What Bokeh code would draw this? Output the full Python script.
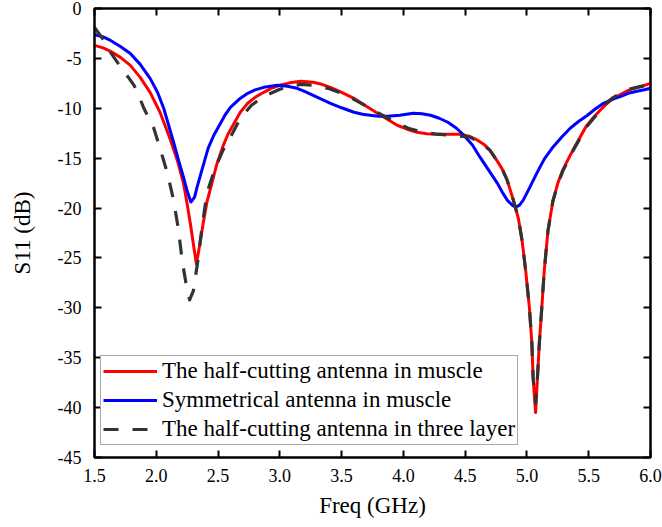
from bokeh.plotting import figure
from bokeh.models import Range1d, FixedTicker, LinearAxis, Legend, LegendItem
from bokeh.embed import file_html
from bokeh.resources import INLINE

# --- data ---
f_red = [1.50, 1.57, 1.63, 1.71, 1.79, 1.87, 1.95, 2.03, 2.11, 2.17, 2.22, 2.25, 2.28, 2.305,
         2.325, 2.35, 2.38, 2.41, 2.45, 2.49, 2.54, 2.58, 2.63, 2.68, 2.74, 2.80, 2.87, 2.93,
         3.00, 3.08, 3.17, 3.27, 3.34, 3.41, 3.50, 3.60, 3.70, 3.79, 3.87, 3.95, 4.03, 4.11,
         4.19, 4.27, 4.36, 4.46, 4.53, 4.60, 4.65, 4.70, 4.76, 4.80, 4.84, 4.89, 4.93, 4.96,
         4.99, 5.02, 5.04, 5.05, 5.07, 5.085, 5.10, 5.12, 5.14, 5.17, 5.21, 5.25, 5.29, 5.33,
         5.38, 5.43, 5.48, 5.54, 5.60, 5.65, 5.70, 5.76, 5.82, 5.89, 5.95, 6.00]
s_red = [-3.7, -3.95, -4.3, -4.9, -5.7, -6.9, -8.4, -10.4, -13.0, -15.2, -17.5, -19.6, -21.9, -24.0,
         -25.6, -23.8, -21.5, -19.4, -17.5, -15.6, -13.8, -12.6, -11.5, -10.4, -9.5, -8.9, -8.4, -8.0,
         -7.7, -7.45, -7.3, -7.4, -7.6, -7.9, -8.4, -9.0, -9.8, -10.5, -11.1, -11.7, -12.1, -12.4,
         -12.55, -12.6, -12.6, -12.6, -12.8, -13.2, -13.6, -14.2, -15.3, -16.1, -17.2, -19.2, -21.0, -23.2,
         -26.3, -30.0, -33.6, -37.0, -40.5, -37.0, -33.6, -30.0, -26.3, -22.3, -19.3, -17.5, -16.2, -15.2,
         -14.0, -12.9, -11.8, -10.9, -10.1, -9.5, -9.0, -8.6, -8.2, -7.9, -7.7, -7.5]

f_blue = [1.50, 1.57, 1.63, 1.71, 1.79, 1.87, 1.95, 2.01, 2.06, 2.10, 2.14, 2.18, 2.22, 2.25,
          2.28, 2.31, 2.33, 2.36, 2.39, 2.42, 2.47, 2.52, 2.56, 2.60, 2.67, 2.74, 2.80, 2.87,
          2.98, 3.06, 3.14, 3.20, 3.27, 3.34, 3.41, 3.50, 3.60, 3.67, 3.73, 3.80, 3.87, 3.97,
          4.08, 4.15, 4.22, 4.29, 4.36, 4.43, 4.49, 4.56, 4.62, 4.69, 4.76, 4.80, 4.84, 4.88,
          4.91, 4.94, 4.97, 5.02, 5.08, 5.14, 5.21, 5.28, 5.35, 5.42, 5.49, 5.55, 5.62, 5.69,
          5.76, 5.82, 5.89, 5.95, 6.00]
s_blue = [-2.6, -2.85, -3.2, -3.8, -4.5, -5.6, -7.0, -8.4, -10.0, -11.7, -13.4, -15.2, -16.9, -18.3,
          -19.4, -18.9, -17.9, -16.6, -15.3, -14.0, -12.6, -11.5, -10.6, -9.9, -9.1, -8.5, -8.15, -7.9,
          -7.7, -7.8, -8.0, -8.3, -8.7, -9.1, -9.5, -9.95, -10.4, -10.6, -10.7, -10.8, -10.8, -10.7,
          -10.5, -10.55, -10.7, -11.0, -11.4, -12.0, -12.7, -13.7, -14.9, -16.2, -17.5, -18.4, -19.2, -19.7,
          -19.9, -19.7, -19.2, -18.0, -16.5, -15.1, -13.9, -12.9, -12.0, -11.3, -10.7, -10.1, -9.5, -9.1,
          -8.8, -8.5, -8.3, -8.15, -8.0]

f_black = [1.50, 1.57, 1.63, 1.68, 1.73, 1.78, 1.82, 1.86, 1.90, 1.94, 1.98, 2.03, 2.09, 2.14,
           2.18, 2.21, 2.24, 2.27, 2.30, 2.34, 2.37, 2.41, 2.45, 2.48, 2.54, 2.60, 2.68, 2.77,
           2.87, 3.00, 3.08, 3.17, 3.28, 3.39, 3.50, 3.60, 3.70, 3.80, 3.92, 4.04, 4.15, 4.27,
           4.40, 4.54, 4.60, 4.65, 4.70, 4.76, 4.80, 4.84, 4.89, 4.93, 4.96, 4.99, 5.02, 5.04,
           5.05, 5.07, 5.085, 5.10, 5.12, 5.14, 5.17, 5.21, 5.25, 5.29, 5.33, 5.38, 5.43, 5.48,
           5.54, 5.60, 5.65, 5.70, 5.76, 5.82, 5.89, 5.95, 6.00]
s_black = [-1.9, -3.1, -4.4, -5.3, -6.2, -7.0, -7.7, -8.8, -10.0, -11.0, -12.0, -14.0, -16.5, -19.2,
           -22.2, -25.3, -27.5, -29.2, -28.3, -25.0, -21.9, -18.5, -17.0, -15.9, -14.2, -12.9, -11.0, -9.7,
           -8.8, -8.1, -7.8, -7.6, -7.7, -8.0, -8.5, -9.1, -9.8, -10.5, -11.3, -12.0, -12.4, -12.6,
           -12.7, -12.9, -13.3, -13.7, -14.2, -15.3, -16.1, -17.2, -19.2, -21.0, -23.2, -26.3, -30.0, -33.6,
           -37.0, -39.6, -37.0, -33.6, -30.0, -26.3, -22.3, -19.3, -17.6, -16.3, -15.3, -14.1, -13.0, -11.9,
           -11.0, -10.1, -9.4, -8.9, -8.5, -8.1, -7.9, -7.75, -7.6]

labels = ["The half-cutting antenna in muscle",
          "Symmetrical antenna in muscle",
          "The half-cutting antenna in three layer"]

x_ticks = [1.5, 2.0, 2.5, 3.0, 3.5, 4.0, 4.5, 5.0, 5.5, 6.0]
y_ticks = [0, -5, -10, -15, -20, -25, -30, -35, -40, -45]

FONT = "Liberation Serif"

p = figure(frame_width=556, frame_height=449,
           min_border_left=94, min_border_right=12, min_border_top=8, min_border_bottom=70,
           x_range=Range1d(1.5, 6.0), y_range=Range1d(-45, 0),
           output_backend="svg", toolbar_location=None)
p.background_fill_color = "white"
p.border_fill_color = "white"
p.xgrid.visible = False
p.ygrid.visible = False
p.outline_line_color = "black"
p.outline_line_width = 2

r1 = p.line(f_red, s_red, line_color="#ff0000", line_width=3, line_join="round")
r2 = p.line(f_blue, s_blue, line_color="#0000ff", line_width=3, line_join="round")
r3 = p.line(f_black, s_black, line_color="#333333", line_width=3.2, line_dash="15 14",
            line_join="round")

def style(ax):
    ax.axis_line_color = "black"
    ax.axis_line_width = 2
    ax.major_tick_line_color = "black"
    ax.major_tick_line_width = 2
    ax.major_tick_in = 7
    ax.major_tick_out = 0
    ax.minor_tick_line_color = None
    ax.major_label_text_font = FONT
    ax.major_label_text_font_size = "18px"
    ax.major_label_text_color = "black"
    ax.axis_label_text_font = FONT
    ax.axis_label_text_font_size = "23px"
    ax.axis_label_text_font_style = "normal"
    ax.axis_label_text_color = "black"

xa = p.xaxis[0]
xa.ticker = FixedTicker(ticks=x_ticks)
xa.major_label_overrides = {t: f"{t:.1f}" for t in x_ticks}
xa.axis_label = "Freq (GHz)"
style(xa)
xa.major_label_standoff = 11
xa.axis_label_standoff = 8

ya = p.yaxis[0]
ya.ticker = FixedTicker(ticks=y_ticks)
ya.major_label_overrides = {t: f"{t:d}" for t in y_ticks}
ya.axis_label = "S11 (dB)"
style(ya)
ya.major_label_standoff = 13
ya.axis_label_standoff = 20

# mirrored tick marks on top and right (no labels)
top = LinearAxis(ticker=FixedTicker(ticks=x_ticks))
style(top)
top.major_label_overrides = {t: "" for t in x_ticks}
top.major_label_standoff = 0
p.add_layout(top, "above")
right = LinearAxis(ticker=FixedTicker(ticks=y_ticks))
style(right)
right.major_label_overrides = {t: "" for t in y_ticks}
right.major_label_standoff = 0
p.add_layout(right, "right")

legend = Legend(items=[LegendItem(label=labels[0], renderers=[r1]),
                       LegendItem(label=labels[1], renderers=[r2]),
                       LegendItem(label=labels[2], renderers=[r3])],
                location=(6, 12))
legend.label_text_font = FONT
legend.label_text_font_size = "23px"
legend.label_text_color = "black"
legend.glyph_width = 54
legend.glyph_height = 24
legend.label_height = 24
legend.label_standoff = 5
legend.spacing = 3
legend.padding = 2
legend.margin = 0
legend.border_line_color = "#555555"
legend.border_line_width = 1
legend.background_fill_color = "white"
legend.background_fill_alpha = 1
p.add_layout(legend, "center")

open("out.html", "w").write(file_html(p, INLINE))
